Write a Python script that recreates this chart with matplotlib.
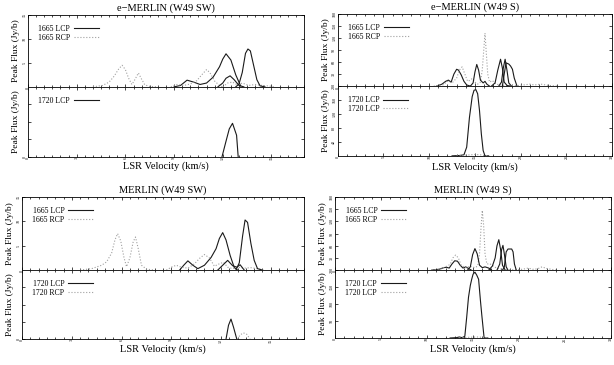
import matplotlib
matplotlib.use("Agg")
import matplotlib.pyplot as plt
from matplotlib.ticker import MultipleLocator

plt.rcParams['font.family'] = ['Liberation Serif', 'DejaVu Serif']

# ---- e-MERLIN (W49 SW) ----
esw_rcp1_v = [4.0, 4.6, 5.0, 5.3, 5.6, 5.8, 6.0, 6.2, 6.4, 6.6, 6.8, 7.0, 7.2, 7.5, 8.0]
esw_rcp1_f = [0.0, 0.3, 1.0, 2.2, 3.8, 4.5, 3.6, 1.8, 0.5, 1.6, 2.9, 1.6, 0.4, 0.1, 0.0]
esw_rcp2_v = [8.8, 9.2, 9.6, 10.0, 10.4, 10.7, 11.0, 11.2, 11.5, 11.8, 12.0]
esw_rcp2_f = [0.0, 0.5, 0.3, 0.6, 1.3, 2.5, 3.6, 3.0, 1.2, 0.3, 0.0]
esw_rcp3_v = [12.0, 12.3, 12.6, 12.9, 13.2, 13.6, 14.0, 14.4, 14.8, 15.2]
esw_rcp3_f = [0.0, 0.8, 1.0, 0.4, 0.8, 0.3, 0.5, 0.3, 0.2, 0.0]
esw_lcp1_v = [9.0, 9.4, 9.8, 10.2, 10.6, 11.0, 11.4, 11.8, 12.0, 12.2, 12.5, 12.8, 13.1]
esw_lcp1_f = [0.0, 0.3, 1.4, 1.0, 0.5, 0.8, 2.0, 4.2, 5.8, 6.9, 5.6, 2.5, 0.2]
esw_lcp2_v = [11.7, 12.0, 12.2, 12.45, 12.7, 13.0, 13.3]
esw_lcp2_f = [0.0, 0.8, 1.8, 2.3, 1.5, 0.3, 0.0]
esw_lcp3_v = [12.8, 13.0, 13.2, 13.4, 13.55, 13.7, 13.9, 14.1, 14.3, 14.6]
esw_lcp3_f = [0.0, 0.6, 3.0, 7.0, 7.9, 7.5, 4.5, 1.5, 0.2, 0.0]
esw_1720_v = [11.95, 12.2, 12.4, 12.6, 12.85, 12.95]
esw_1720_f = [0.0, 0.45, 0.8, 0.96, 0.62, 0.0]

# ---- e-MERLIN (W49 S) ----
es_rcp_v = [10.5, 11.5, 12.0, 12.5, 13.0, 13.3, 13.6, 13.9, 14.2, 14.5, 14.7, 15.0, 15.3,
            15.6, 15.8, 16.0, 16.1, 16.25, 16.4, 16.6, 16.9, 17.3, 18.0, 19.0, 20.0, 21.0,
            21.5, 22.2, 23.0, 24.0]
es_rcp_f = [0, 3, 12, 8, 20, 40, 48, 30, 12, 15, 19, 10, 5, 10, 40, 100, 132, 80, 30, 10,
            14, 5, 2, 1, 2, 5, 3, 5, 2, 0]
es_lcp1_v = [10.8, 11.4, 11.8, 12.1, 12.4, 12.7, 13.0, 13.2, 13.5, 13.8, 14.1, 14.5]
es_lcp1_f = [0, 5, 12, 15, 10, 30, 42, 40, 28, 12, 3, 0]
es_lcp2_v = [14.5, 14.8, 15.0, 15.2, 15.4, 15.6, 15.9, 16.1, 16.3, 16.6]
es_lcp2_f = [0, 8, 35, 54, 40, 15, 8, 12, 5, 0]
es_lcp3_v = [16.8, 17.2, 17.5, 17.8, 18.0, 18.2, 18.5, 18.8]
es_lcp3_f = [0, 8, 40, 67, 45, 10, 2, 0]
es_lcp4_v = [17.6, 17.9, 18.1, 18.3, 18.5, 18.7, 19.0]
es_lcp4_f = [0, 10, 45, 67, 40, 8, 0]
es_lcp5_v = [18.0, 18.2, 18.4, 18.7, 18.9, 19.1, 19.3, 19.6]
es_lcp5_f = [0, 30, 58, 55, 50, 42, 20, 0]
es_1720a_v = [12.5, 13.3, 13.8, 14.1, 14.4, 14.7, 14.9, 15.1, 15.3, 15.5, 15.7, 15.9, 16.1, 16.5]
es_1720a_f = [0, 1, 3, 25, 110, 170, 188, 190, 178, 130, 63, 15, 0, 0]
es_1720b_v = [13.0, 14.0, 15.0, 15.6, 16.0, 16.5]
es_1720b_f = [0, 2, 4, 3, 1, 0]

# ---- MERLIN (W49 SW) ----
msw_rcp1_v = [3.5, 4.2, 4.8, 5.1, 5.4, 5.6, 5.76, 5.95, 6.15, 6.3, 6.5, 6.7, 6.84, 7.0, 7.2, 7.5, 8.0]
msw_rcp1_f = [0, 0.3, 1.0, 1.7, 3.5, 6.2, 7.5, 6.0, 2.5, 0.7, 2.5, 5.8, 6.8, 4.5, 1.0, 0.2, 0]
msw_rcp2_v = [8.7, 9.0, 9.3, 9.6, 10.0, 10.4, 10.7, 11.0, 11.3, 11.6, 11.9, 12.15, 12.4,
              12.7, 13.0, 13.4, 13.8, 14.2, 14.6]
msw_rcp2_f = [0, 0.6, 1.0, 0.6, 0.4, 1.3, 2.4, 3.2, 2.5, 0.8, 1.3, 1.6, 0.6, 0.3, 0.6, 0.4, 0.5, 0.3, 0]
msw_lcp1_v = [9.5, 9.75, 10.0, 10.3, 10.6, 11.0, 11.4, 11.7, 11.9, 12.1, 12.3, 12.55, 12.8, 13.0]
msw_lcp1_f = [0, 1.0, 1.9, 1.0, 0.3, 1.0, 2.6, 4.4, 6.5, 7.7, 6.2, 3.0, 0.5, 0]
msw_lcp2_v = [11.8, 12.1, 12.4, 12.7, 12.95, 13.15, 13.4]
msw_lcp2_f = [0, 1.0, 2.0, 0.9, 0.6, 1.1, 0]
msw_lcp3_v = [12.9, 13.1, 13.3, 13.45, 13.6, 13.8, 14.0, 14.2, 14.5]
msw_lcp3_f = [0, 1.5, 7.0, 10.3, 9.8, 5.5, 2.0, 0.3, 0]
msw_1720l_v = [12.3, 12.45, 12.6, 12.75, 12.95]
msw_1720l_f = [0, 0.4, 0.58, 0.35, 0]
msw_1720r_v = [13.0, 13.15, 13.35, 13.55, 13.75]
msw_1720r_f = [0, 0.12, 0.18, 0.14, 0]

# ---- MERLIN (W49 S) ----
ms_rcp_v = [10.5, 11.5, 12.0, 12.5, 12.8, 13.1, 13.4, 13.7, 14.0, 14.3, 14.6, 14.9, 15.2,
            15.5, 15.7, 15.85, 16.0, 16.15, 16.3, 16.5, 16.8, 17.2, 17.6, 18.2, 19.0, 20.0,
            20.6, 21.0, 21.5, 22.0, 22.5, 23.0, 24.0]
ms_rcp_f = [0, 3, 8, 14, 30, 37, 30, 12, 8, 5, 10, 8, 6, 10, 40, 100, 147, 110, 40, 15,
            16, 10, 4, 2, 1, 1, 3, 5, 2, 3, 8, 4, 0]
ms_lcp1_v = [10.5, 11.3, 11.8, 12.1, 12.4, 12.7, 13.0, 13.3, 13.6, 13.9, 14.2, 14.5, 14.8]
ms_lcp1_f = [0, 2, 6, 7, 5, 15, 23, 22, 12, 5, 8, 4, 0]
ms_lcp2_v = [14.4, 14.7, 14.95, 15.2, 15.45, 15.7, 16.0, 16.3, 16.7, 17.0]
ms_lcp2_f = [0, 8, 38, 53, 40, 12, 6, 8, 5, 0]
ms_lcp3_v = [16.7, 17.1, 17.4, 17.6, 17.8, 18.0, 18.2, 18.5]
ms_lcp3_f = [0, 10, 30, 60, 75, 50, 12, 0]
ms_lcp4_v = [17.6, 17.9, 18.1, 18.25, 18.4, 18.6, 18.8]
ms_lcp4_f = [0, 15, 50, 61, 40, 8, 0]
ms_lcp5_v = [18.2, 18.4, 18.6, 18.8, 19.0, 19.2, 19.35, 19.5, 19.7]
ms_lcp5_f = [0, 8, 45, 52, 52, 52, 45, 15, 0]
ms_1720a_v = [12.5, 13.2, 13.5, 13.8, 14.1, 14.3, 14.5, 14.7, 14.85, 15.0, 15.2, 15.4,
              15.6, 15.8, 15.95, 16.2, 16.6]
ms_1720a_f = [0, 1, 3, 1, 5, 60, 120, 155, 173, 188, 194, 185, 173, 110, 67, 0, 0]
ms_1720b_v = [13.5, 14.5, 15.5, 16.0, 16.5]
ms_1720b_f = [0, 2, 3, 2, 0]

BLACK = '#1a1a1a'
GREY = '#a0a0a0'
LW = 0.8


def style(ax, xmax, xmaj, xmin, ymax, yticks, ylabels):
    ax.set_xlim(0, xmax)
    ax.set_ylim(0, ymax)
    ax.xaxis.set_major_locator(MultipleLocator(xmaj))
    ax.xaxis.set_minor_locator(MultipleLocator(xmin))
    ax.set_yticks(yticks)
    ax.set_yticklabels(ylabels)
    ax.tick_params(which='both', direction='in', top=True, right=True,
                   labelsize=3, pad=1, width=0.5)
    ax.tick_params(which='major', length=2.5)
    ax.tick_params(which='minor', length=1.5)
    for lab in ax.get_xticklabels() + ax.get_yticklabels():
        lab.set_rotation(90)
        lab.set_verticalalignment('center')
    for s in ax.spines.values():
        s.set_linewidth(0.6)
    ax.set_ylabel("Peak Flux (Jy/b)", fontsize=6.8, labelpad=2)


def legend(ax):
    ax.legend(loc='upper left', frameon=False, markerfirst=False, fontsize=5.6,
              handlelength=3.2, handletextpad=0.5, labelspacing=0.1,
              borderaxespad=0.9)


fig = plt.figure(figsize=(6.14, 3.65), dpi=100)

# panel A
a1 = fig.add_axes([0.0456, 0.762, 0.4494, 0.197])
a2 = fig.add_axes([0.0456, 0.570, 0.4494, 0.192])
a1.plot(esw_lcp1_v, esw_lcp1_f, color=BLACK, lw=LW, label='1665 LCP')
a1.plot(esw_rcp1_v, esw_rcp1_f, color=GREY, lw=LW, ls=':', label='1665 RCP')
a1.plot(esw_rcp2_v, esw_rcp2_f, color=GREY, lw=LW, ls=':')
a1.plot(esw_rcp3_v, esw_rcp3_f, color=GREY, lw=LW, ls=':')
a1.plot(esw_lcp2_v, esw_lcp2_f, color=BLACK, lw=LW)
a1.plot(esw_lcp3_v, esw_lcp3_f, color=BLACK, lw=LW)
a2.plot(esw_1720_v, esw_1720_f, color=BLACK, lw=LW, label='1720 LCP')
style(a1, 17, 3, 0.5, 15, [0, 5, 10, 15], ['', '5', '10', '15'])
style(a2, 17, 3, 0.5, 2, [0, 0.5, 1, 1.5], ['0', '', '', ''])
legend(a1)
legend(a2)
a1.set_title("e\u2212MERLIN (W49 SW)", fontsize=7.5, pad=3)
a2.set_xlabel("LSR Velocity (km/s)", fontsize=7.5, labelpad=1)

# panel B
b1 = fig.add_axes([0.550, 0.764, 0.447, 0.198])
b2 = fig.add_axes([0.550, 0.573, 0.447, 0.191])
b1.plot(es_lcp1_v, es_lcp1_f, color=BLACK, lw=LW, label='1665 LCP')
b1.plot(es_rcp_v, es_rcp_f, color=GREY, lw=LW, ls=':', label='1665 RCP')
for v, f in [(es_lcp2_v, es_lcp2_f), (es_lcp3_v, es_lcp3_f),
             (es_lcp4_v, es_lcp4_f), (es_lcp5_v, es_lcp5_f)]:
    b1.plot(v, f, color=BLACK, lw=LW)
b2.plot(es_1720a_v, es_1720a_f, color=BLACK, lw=LW, label='1720 LCP')
b2.plot(es_1720b_v, es_1720b_f, color=GREY, lw=LW, ls=':', label='1720 LCP')
style(b1, 30, 5, 1, 180, [0, 30, 60, 90, 120, 150, 180],
      ['', '30', '60', '90', '120', '150', '180'])
style(b2, 30, 5, 1, 200, [40, 80, 120, 160, 200], ['40', '80', '120', '160', '200'])
legend(b1)
legend(b2)
b1.set_title("e\u2212MERLIN (W49 S)", fontsize=7.5, pad=3)
b2.set_xlabel("LSR Velocity (km/s)", fontsize=7.5, labelpad=2)

# panel C
c1 = fig.add_axes([0.036, 0.260, 0.459, 0.200])
c2 = fig.add_axes([0.036, 0.071, 0.459, 0.189])
c1.plot(msw_lcp1_v, msw_lcp1_f, color=BLACK, lw=LW, label='1665 LCP')
c1.plot(msw_rcp1_v, msw_rcp1_f, color=GREY, lw=LW, ls=':', label='1665 RCP')
c1.plot(msw_rcp2_v, msw_rcp2_f, color=GREY, lw=LW, ls=':')
c1.plot(msw_lcp2_v, msw_lcp2_f, color=BLACK, lw=LW)
c1.plot(msw_lcp3_v, msw_lcp3_f, color=BLACK, lw=LW)
c2.plot(msw_1720l_v, msw_1720l_f, color=BLACK, lw=LW, label='1720 LCP')
c2.plot(msw_1720r_v, msw_1720r_f, color=GREY, lw=LW, ls=':', label='1720 RCP')
style(c1, 17, 3, 0.5, 15, [0, 5, 10, 15], ['', '5', '10', '15'])
style(c2, 17, 3, 0.5, 2, [0, 0.5, 1, 1.5], ['0', '', '', ''])
legend(c1)
legend(c2)
c1.set_title("MERLIN (W49 SW)", fontsize=7.5, pad=3)
c2.set_xlabel("LSR Velocity (km/s)", fontsize=7.5, labelpad=1)

# panel D
d1 = fig.add_axes([0.546, 0.260, 0.449, 0.200])
d2 = fig.add_axes([0.546, 0.074, 0.449, 0.186])
d1.plot(ms_lcp1_v, ms_lcp1_f, color=BLACK, lw=LW, label='1665 LCP')
d1.plot(ms_rcp_v, ms_rcp_f, color=GREY, lw=LW, ls=':', label='1665 RCP')
for v, f in [(ms_lcp2_v, ms_lcp2_f), (ms_lcp3_v, ms_lcp3_f),
             (ms_lcp4_v, ms_lcp4_f), (ms_lcp5_v, ms_lcp5_f)]:
    d1.plot(v, f, color=BLACK, lw=LW)
d2.plot(ms_1720a_v, ms_1720a_f, color=BLACK, lw=LW, label='1720 LCP')
d2.plot(ms_1720b_v, ms_1720b_f, color=GREY, lw=LW, ls=':', label='1720 LCP')
style(d1, 30, 5, 1, 180, [0, 30, 60, 90, 120, 150, 180],
      ['', '30', '60', '90', '120', '150', '180'])
style(d2, 30, 5, 1, 200, [50, 100, 150, 200], ['50', '100', '150', '200'])
legend(d1)
legend(d2)
d1.set_title("MERLIN (W49 S)", fontsize=7.5, pad=3)
d2.set_xlabel("LSR Velocity (km/s)", fontsize=7.5, labelpad=2)

fig.savefig("out.png", dpi=100)
